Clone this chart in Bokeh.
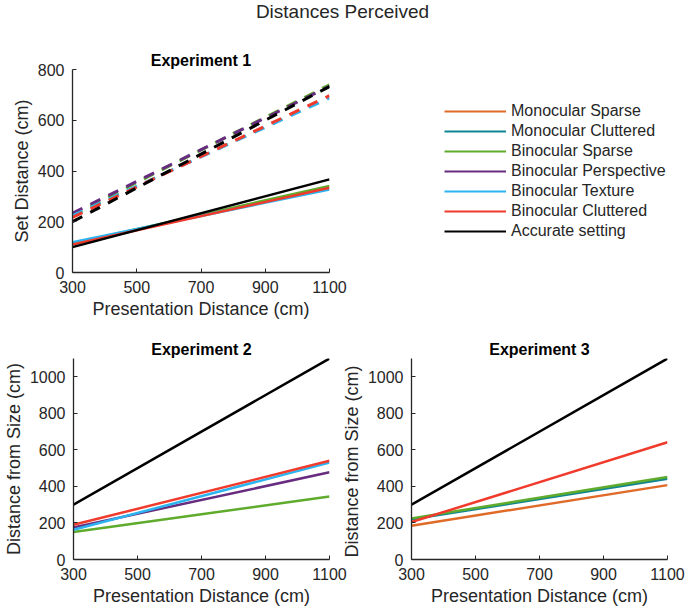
from bokeh.plotting import figure
from bokeh.models import Div, Legend, LegendItem, Range1d, FixedTicker
from bokeh.layouts import column, row
from bokeh.embed import file_html
from bokeh.resources import INLINE

# ---------------- data ----------------
presentation_cm = [300, 1100]
x_ticks = [300, 500, 700, 900, 1100]
exp1_y_ticks = [0, 200, 400, 600, 800]
exp23_y_ticks = [0, 200, 400, 600, 800, 1000]

conditions = ["Monocular Sparse", "Monocular Cluttered", "Binocular Sparse",
              "Binocular Perspective", "Binocular Texture", "Binocular Cluttered",
              "Accurate setting"]
colors = ["#E06A28", "#0F8593", "#5FAB2C", "#672C80", "#2BB4F0", "#F03B2C", "#000000"]

# Experiment 1 - solid (set distance)
exp1_solid_names = ["Binocular Sparse", "Binocular Texture", "Binocular Cluttered", "Accurate setting"]
exp1_solid_y300 = [114, 119, 110, 100]
exp1_solid_y1100 = [341, 327, 334, 367]

# Experiment 1 - dashed
exp1_dash_names = ["Binocular Sparse", "Binocular Perspective", "Binocular Texture", "Binocular Cluttered", "Accurate setting"]
exp1_dash_y300 = [226, 234, 224, 217, 200]
exp1_dash_y1100 = [740, 734, 688, 697, 733]

# Experiment 2
exp2_names = ["Binocular Sparse", "Binocular Perspective", "Binocular Texture", "Binocular Cluttered", "Accurate setting"]
exp2_y300 = [150, 175, 163, 190, 300]
exp2_y1100 = [345, 477, 530, 540, 1100]

# Experiment 3
exp3_names = ["Monocular Cluttered", "Binocular Sparse", "Monocular Sparse", "Binocular Cluttered", "Accurate setting"]
exp3_y300 = [220, 225, 185, 205, 300]
exp3_y1100 = [442, 452, 407, 642, 1100]

color_of = dict(zip(conditions, colors))
FONT = "Liberation Sans"
TXT = "#262626"


def make_fig(title, ylabel, ymax, yticks, width, height, left, right, top, bottom):
    p = figure(width=width, height=height, x_range=Range1d(300, 1100), y_range=Range1d(0, ymax),
               output_backend="svg", toolbar_location=None,
               min_border_left=left, min_border_right=right, min_border_top=top, min_border_bottom=bottom)
    p.title.text = title
    p.title.align = "center"
    p.title.text_font = FONT
    p.title.text_font_size = "16px"
    p.title.text_font_style = "bold"
    p.title.text_color = "#000000"
    p.title.standoff = 2
    p.grid.visible = False
    p.outline_line_color = None
    p.xaxis.ticker = FixedTicker(ticks=x_ticks)
    p.yaxis.ticker = FixedTicker(ticks=yticks)
    p.xaxis.axis_label = "Presentation Distance (cm)"
    p.yaxis.axis_label = ylabel
    for ax in (p.xaxis[0], p.yaxis[0]):
        ax.major_label_text_font = FONT
        ax.major_label_text_font_size = "16px"
        ax.major_label_text_color = TXT
        ax.axis_label_text_font = FONT
        ax.axis_label_text_font_size = "18px"
        ax.axis_label_text_font_style = "normal"
        ax.axis_label_text_color = TXT
        ax.axis_line_color = TXT
        ax.axis_line_width = 1.3
        ax.major_tick_line_color = TXT
        ax.major_tick_in = 4
        ax.major_tick_out = 0
        ax.minor_tick_line_color = None
        ax.major_label_standoff = 8
        ax.axis_label_standoff = 3
    return p


# Experiment 1
p1 = make_fig("Experiment 1", "Set Distance (cm)", 800, exp1_y_ticks, 350, 280, 72, 21, 25, 52)
for n, a, b in zip(exp1_dash_names, exp1_dash_y300, exp1_dash_y1100):
    p1.line(presentation_cm, [a, b], line_color=color_of[n], line_width=3, line_dash="11 9")
for n, a, b in zip(exp1_solid_names, exp1_solid_y300, exp1_solid_y1100):
    p1.line(presentation_cm, [a, b], line_color=color_of[n], line_width=2.5)

# Legend panel (sample lines lie outside this panel's ranges, only the legend shows)
pl = figure(width=335, height=280, x_range=Range1d(0, 1), y_range=Range1d(0, 1),
            output_backend="svg", toolbar_location=None, x_axis_type=None, y_axis_type=None,
            min_border_left=62, min_border_top=25, min_border_right=0, min_border_bottom=52)
pl.grid.visible = False
pl.outline_line_color = None
items = []
for n in conditions:
    r = pl.line(presentation_cm, presentation_cm, line_color=color_of[n], line_width=2)
    items.append(LegendItem(label=n, renderers=[r]))
leg = Legend(items=items, location="top_left", padding=0, margin=32, border_line_color=None,
             background_fill_alpha=0, glyph_width=62, glyph_height=20, label_height=20,
             spacing=0, label_standoff=5, label_text_font=FONT, label_text_font_size="16px",
             label_text_color=TXT)
pl.add_layout(leg)

# Experiment 2
p2 = make_fig("Experiment 2", "Distance from Size (cm)", 1100, exp23_y_ticks, 350, 285, 72, 21, 34, 50)
for n, a, b in zip(exp2_names, exp2_y300, exp2_y1100):
    p2.line(presentation_cm, [a, b], line_color=color_of[n], line_width=2.5)

# Experiment 3
p3 = make_fig("Experiment 3", "Distance from Size  (cm)", 1100, exp23_y_ticks, 347, 285, 72, 18, 34, 50)
p3.background_fill_alpha = 0
p3.border_fill_alpha = 0
p3.styles = {"margin-left": "-12px"}
for n, a, b in zip(exp3_names, exp3_y300, exp3_y1100):
    p3.line(presentation_cm, [a, b], line_color=color_of[n], line_width=2.5)

title = Div(text="<div style=\"width:685px;text-align:center;font-family:'Liberation Sans';"
                 "font-size:19px;color:#262626;margin-top:-2px\">Distances Perceived</div>",
            width=685, height=44, margin=0)

layout = column(title, row(p1, pl), row(p2, p3))

open("out.html", "w").write(file_html(layout, INLINE))
